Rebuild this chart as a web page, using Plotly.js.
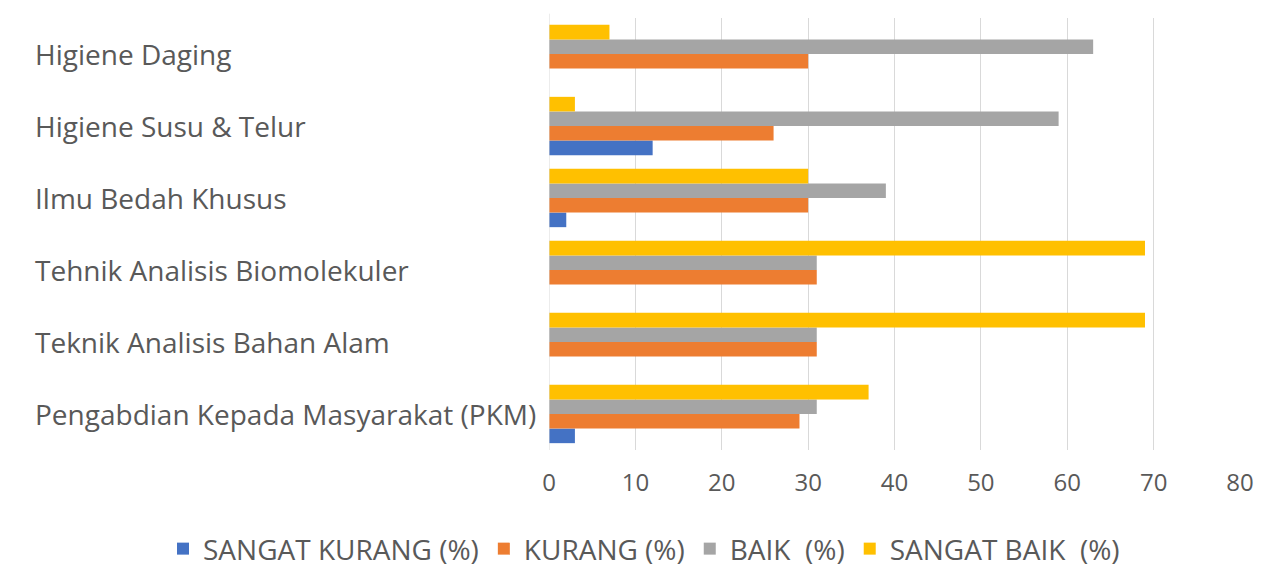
<!DOCTYPE html>
<html>
<head>
<meta charset="utf-8">
<script src="https://cdn.plot.ly/plotly-3.0.1.min.js"></script>
<style>html,body{margin:0;padding:0;background:#fff;}#chart{width:1272px;height:588px;}</style>
</head>
<body>
<div id="chart"></div>
<script>
// categories listed bottom-to-top as drawn
const categories = [
  "Pengabdian Kepada Masyarakat (PKM)",
  "Teknik Analisis Bahan Alam",
  "Tehnik Analisis Biomolekuler",
  "Ilmu Bedah Khusus",
  "Higiene Susu & Telur",
  "Higiene Daging"
];
const seriesNames = ["SANGAT KURANG (%)", "KURANG (%)", "BAIK  (%)", "SANGAT BAIK  (%)"];
const sangatKurang = [3, 0, 0, 2, 12, 0];
const kurang = [29, 31, 31, 30, 26, 30];
const baik = [31, 31, 31, 39, 59, 63];
const sangatBaik = [37, 69, 69, 30, 3, 7];
const xTicks = [0, 10, 20, 30, 40, 50, 60, 70, 80];

const colors = ["#4472C4", "#ED7D31", "#A5A5A5", "#FFC000"];
const values = [sangatKurang, kurang, baik, sangatBaik];

const traces = values.map((v, i) => ({
  type: "bar",
  orientation: "h",
  name: seriesNames[i],
  x: v,
  y: categories,
  marker: {color: colors[i]},
  hoverinfo: "x+name"
}));

const annotations = categories.map(c => ({
  xref: "paper", yref: "y",
  x: -0.7467, y: c,
  xanchor: "left", yanchor: "middle",
  text: c, showarrow: false,
  font: {size: 28, color: "#595959", family: "Open Sans, sans-serif"}
}));

const layout = {
  width: 1272,
  height: 588,
  margin: {l: 549, r: 32, t: 18, b: 138},
  paper_bgcolor: "#ffffff",
  plot_bgcolor: "#ffffff",
  barmode: "group",
  bargap: 0.19,
  bargroupgap: 0,
  font: {family: "Open Sans, sans-serif", color: "#595959"},
  xaxis: {
    range: [0, 80],
    tickvals: xTicks,
    ticktext: xTicks.map(String),
    showgrid: true,
    gridcolor: "#D9D9D9",
    gridwidth: 1,
    zeroline: false,
    showline: false,
    ticks: "",
    tickfont: {size: 24, color: "#595959"},
    ticklabelstandoff: 16
  },
  yaxis: {
    type: "category",
    categoryorder: "array",
    categoryarray: categories,
    showgrid: false,
    zeroline: false,
    showline: false,
    ticks: "",
    showticklabels: false
  },
  annotations: annotations,
  showlegend: true,
  legend: {
    orientation: "h",
    xref: "paper",
    yref: "paper",
    x: -0.5586,
    xanchor: "left",
    y: -0.229,
    yanchor: "middle",
    font: {size: 28, color: "#595959"},
    itemwidth: 30,
    traceorder: "normal"
  },
  shapes: [
    {type: "line", xref: "x", yref: "paper", x0: 0, x1: 0, y0: 0, y1: 1.01, line: {color: "#D9D9D9", width: 1}}
  ]
};

Plotly.newPlot("chart", traces, layout, {displayModeBar: false, staticPlot: true});
</script>
</body>
</html>
